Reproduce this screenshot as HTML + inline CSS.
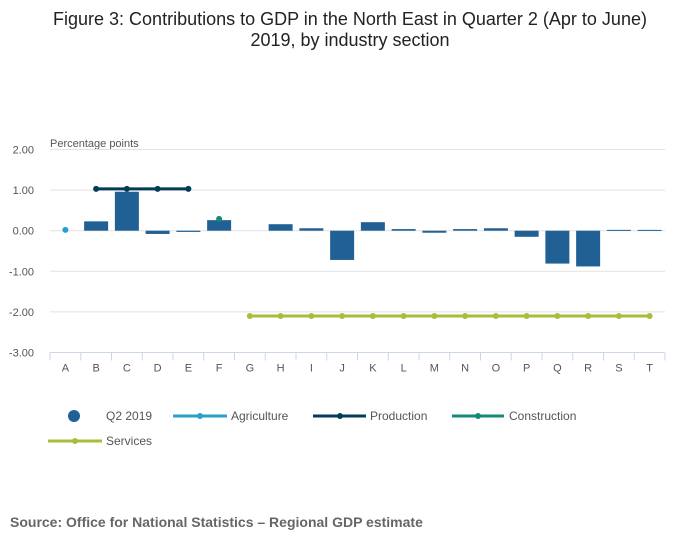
<!DOCTYPE html>
<html><head><meta charset="utf-8"><style>
body{margin:0;background:#fff;font-family:"Liberation Sans","DejaVu Sans",sans-serif;}
</style></head><body>
<svg width="700" height="549" xmlns="http://www.w3.org/2000/svg" font-family="Liberation Sans, DejaVu Sans, sans-serif">
<text x="350" y="25" text-anchor="middle" font-size="18" fill="#222">Figure 3: Contributions to GDP in the North East in Quarter 2 (Apr to June)</text>
<text x="350" y="46" text-anchor="middle" font-size="18" fill="#222">2019, by industry section</text>
<text x="50" y="147" font-size="11" fill="#555">Percentage points</text>
<g id="grid"></g><g id="bars"></g><g id="lines"></g><g id="xaxis"></g>
<g font-size="12" fill="#555">
<circle cx="74" cy="416" r="6" fill="#206095"/>
<text x="106" y="420">Q2 2019</text>
<line x1="173" y1="416" x2="227" y2="416" stroke="#27a0cc" stroke-width="3"/><circle cx="200" cy="416" r="3" fill="#27a0cc"/>
<text x="231" y="420">Agriculture</text>
<line x1="313" y1="416" x2="366" y2="416" stroke="#003c57" stroke-width="3"/><circle cx="340" cy="416" r="3" fill="#003c57"/>
<text x="370" y="420">Production</text>
<line x1="452" y1="416" x2="504" y2="416" stroke="#118c7b" stroke-width="3"/><circle cx="478" cy="416" r="3" fill="#118c7b"/>
<text x="509" y="420">Construction</text>
<line x1="48" y1="441" x2="102" y2="441" stroke="#a8bd3a" stroke-width="3"/><circle cx="75" cy="441" r="3" fill="#a8bd3a"/>
<text x="106" y="445">Services</text>
</g>
<text x="10" y="527" font-size="14" font-weight="bold" fill="#666">Source: Office for National Statistics – Regional GDP estimate</text>
</svg>
<script>
const categories=["A","B","C","D","E","F","G","H","I","J","K","L","M","N","O","P","Q","R","S","T"];
const q2Values=[null,0.23,0.96,-0.08,-0.03,0.26,null,0.16,0.06,-0.72,0.21,0.04,-0.05,0.04,0.06,-0.15,-0.81,-0.88,0.02,0.02];
const agriculture=[0.02];
const agricultureCats=["A"];
const production=[1.03,1.03,1.03,1.03];
const productionCats=["B","C","D","E"];
const construction=[0.29];
const constructionCats=["F"];
const services=[-2.1,-2.1,-2.1,-2.1,-2.1,-2.1,-2.1,-2.1,-2.1,-2.1,-2.1,-2.1,-2.1,-2.1];
const servicesCats=["G","H","I","J","K","L","M","N","O","P","Q","R","S","T"];
const yTicks=[2,1,0,-1,-2,-3];
const yTickLabels=["2.00","1.00","0.00","-1.00","-2.00","-3.00"];
const NS="http://www.w3.org/2000/svg";
const left=50,right=665,yTop=149.5,yBot=352.5,yMax=2,yMin=-3;
const step=(right-left)/categories.length;
function x(c){return left+step*(categories.indexOf(c)+0.5);}
function y(v){return yTop+(yMax-v)/(yMax-yMin)*(yBot-yTop);}
function mk(tag,attrs,parent){const e=document.createElementNS(NS,tag);for(const k in attrs)e.setAttribute(k,attrs[k]);parent.appendChild(e);return e;}
const grid=document.getElementById('grid');
yTicks.forEach((t,i)=>{
  if(t!==yMin){const l=mk('line',{x1:left,x2:right,y1:y(t),y2:y(t),stroke:'#e2e2e2','stroke-width':1},grid);
  
  }
  const tx=mk('text',{x:34,y:y(t)+4,'text-anchor':'end','font-size':11,fill:'#555'},grid);
  tx.textContent=yTickLabels[i];
  
  
});
const xa=document.getElementById('xaxis');
const ax=mk('line',{x1:left,x2:right,y1:yBot,y2:yBot,stroke:'#ccd6e8','stroke-width':1},xa);


for(let i=0;i<=categories.length;i++){mk('line',{x1:left+step*i,x2:left+step*i,y1:yBot,y2:yBot+8,stroke:'#ccd6e8'},xa);}
categories.forEach(c=>{const t=mk('text',{x:x(c),y:yBot+19,'text-anchor':'middle','font-size':11,fill:'#555'},xa);t.textContent=c;

});
const bars=document.getElementById('bars');
const bw=step*0.78;
q2Values.forEach((v,i)=>{if(v===null)return;const c=categories[i];
 const r=mk('rect',{x:x(c)-bw/2,y:Math.min(y(v),y(0)),width:bw,height:Math.max(Math.abs(y(v)-y(0)),1),fill:'#206095'},bars);
 
 });
const lines=document.getElementById('lines');
function series(cats,vals,color,name){
 if(cats.length>1){const p=mk('polyline',{points:cats.map((c,i)=>x(c)+','+y(vals[i])).join(' '),fill:'none',stroke:color,'stroke-width':3},lines);
 
 }
 cats.forEach((c,i)=>{const d=mk('circle',{cx:x(c),cy:y(vals[i]),r:3,fill:color},lines);
 
 });
}
series(agricultureCats,agriculture,'#27a0cc','agriculture');
series(productionCats,production,'#003c57','production');
series(constructionCats,construction,'#118c7b','construction');
series(servicesCats,services,'#a8bd3a','services');
</script>
</body></html>
